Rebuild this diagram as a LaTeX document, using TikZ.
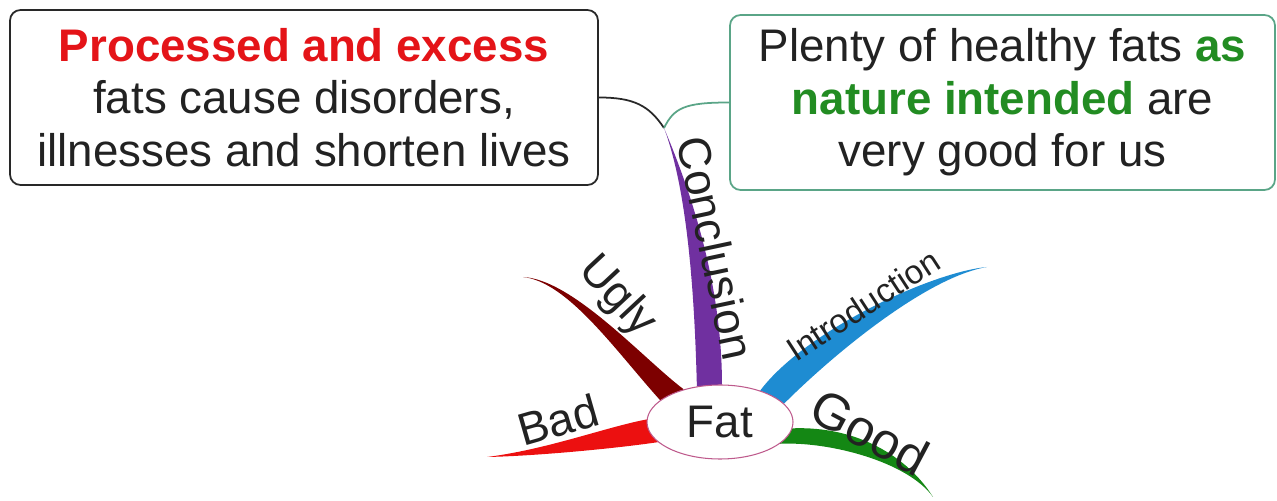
\documentclass[tikz,border=0pt]{standalone}
\usepackage{fontspec}
\setmainfont{Liberation Sans}
\usetikzlibrary{shapes.geometric,backgrounds}

\definecolor{txt}{RGB}{34,34,34}
\definecolor{boxgray}{RGB}{40,40,40}
\definecolor{boxteal}{RGB}{90,165,135}
\definecolor{hired}{RGB}{228,20,24}
\definecolor{higreen}{RGB}{34,140,34}
\definecolor{fatpink}{RGB}{190,90,140}
\definecolor{cpurple}{RGB}{112,48,160}
\definecolor{cugly}{RGB}{125,0,0}
\definecolor{cbad}{RGB}{236,16,16}
\definecolor{cintro}{RGB}{30,140,210}
\definecolor{cgood}{RGB}{20,135,20}

\begin{document}
\begin{tikzpicture}[
    note/.style={
        rectangle, draw, rounded corners=6pt, line width=1pt, fill=white,
        minimum width=#1, minimum height=3.5cm, inner sep=0pt,
        align=center, text=txt, font=\fontsize{26}{29.8}\selectfont
    },
    lbl/.style={text=txt, inner sep=0pt, font=\fontsize{26}{30}\selectfont},
    link/.style={line width=1pt}
]
    \useasboundingbox (0,0) rectangle (25.54,10.02);

    % the two conclusion notes
    \node[note=11.76cm, draw=boxgray] (n1) at (6.08,8.07)
        {\textbf{\color{hired}Processed and excess}\\fats cause disorders,\\illnesses and shorten lives};
    \node[note=10.9cm, draw=boxteal] (n2) at (20.05,7.97)
        {Plenty of healthy fats \textbf{\color{higreen}as}\\\textbf{\color{higreen}nature intended} are\\very good for us};

    % central topic
    \node[ellipse, draw=fatpink, line width=0.6pt, fill=white,
          minimum width=2.92cm, minimum height=1.48cm, lbl] (fat) at (14.40,1.58) {Fat};

    % branch tips
    \coordinate (tc) at (13.28,7.46);
    \coordinate (tu) at (10.46,4.48);
    \coordinate (tb) at (9.74,0.88);
    \coordinate (ti) at (19.74,4.68);
    \coordinate (tg) at (18.66,0.08);

    \begin{scope}[on background layer]
        \fill[cpurple] (fat.123) .. controls +(-0.05,2.0) and +(0.45,-1.2) .. (tc)
            .. controls +(0.55,-1.3) and +(0,2.0) .. (fat.87) -- cycle;
        \fill[cugly] (fat.160) .. controls +(-0.9,1.0) and +(0.9,-0.1) .. (tu)
            .. controls +(1.0,-0.05) and +(-0.8,0.6) .. (fat.138) -- cycle;
        \fill[cbad] (fat.178) .. controls +(-0.8,-0.15) and +(1.2,0.15) .. (tb)
            .. controls +(1.0,0.02) and +(-0.8,-0.12) .. (fat.198) -- cycle;
        \fill[cintro] (fat.38) .. controls +(0.9,1.2) and +(-1.1,-0.1) .. (ti)
            .. controls +(-1.2,-0.2) and +(1.0,1.0) .. (fat.16) -- cycle;
        \fill[cgood] (fat.-5) .. controls +(1.3,0.05) and +(-0.5,0.8) .. (tg)
            .. controls +(-0.5,0.7) and +(1.0,0.05) .. (fat.-20) -- cycle;
    \end{scope}

    \draw[link, draw=boxgray] (n1.east) .. controls +(0.7,0) and +(-0.3,0.45) .. (tc);
    \draw[link, draw=boxteal] (n2.west) .. controls +(-0.9,0) and +(0.2,0.4) .. (tc);

    % branch labels
    \node[lbl, rotate=-78] (lc) at (14.32,5.06) {Conclusion};
    \node[lbl, rotate=-47] (lu) at (12.34,4.08) {Ugly};
    \node[lbl, rotate=16] (lb) at (11.16,1.62) {Bad};
    \node[lbl, rotate=33, font=\fontsize{19}{22}\selectfont] (li) at (17.26,3.92) {Introduction};
    \node[lbl, rotate=-28, font=\fontsize{29}{33}\selectfont] (lg) at (17.40,1.38) {Good};
\end{tikzpicture}
\end{document}
